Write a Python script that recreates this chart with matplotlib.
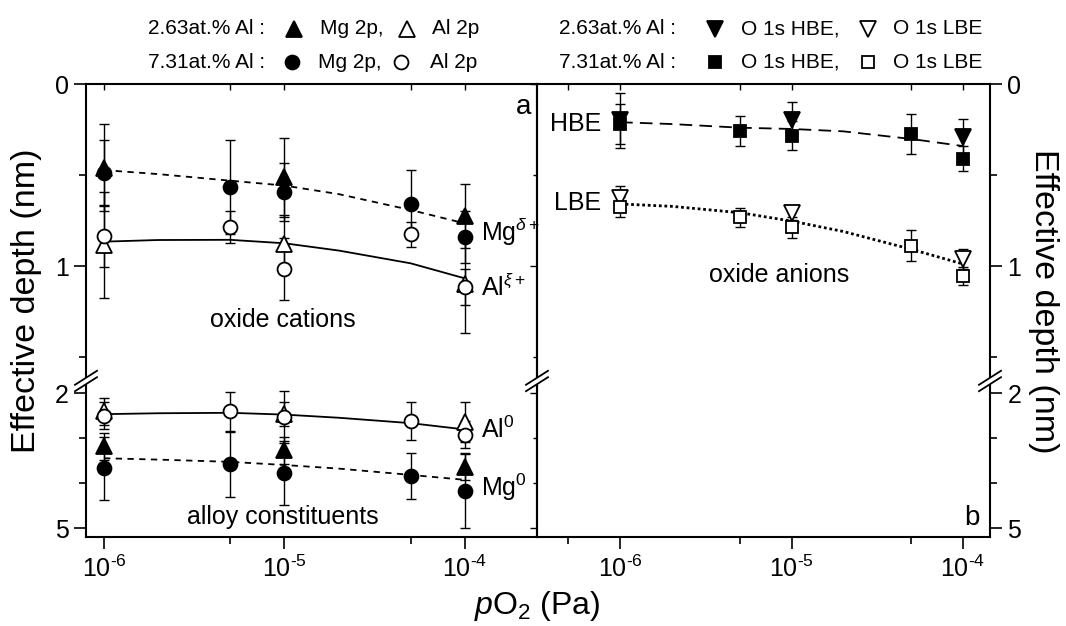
import math
import matplotlib
matplotlib.use('Agg')
import matplotlib.pyplot as plt
from matplotlib.lines import Line2D
from matplotlib.patches import Polygon
from matplotlib.ticker import FixedLocator, NullFormatter, FuncFormatter

plt.rcParams['font.family'] = ['Liberation Sans', 'DejaVu Sans']
plt.rcParams['mathtext.fontset'] = 'custom'
plt.rcParams['mathtext.rm'] = 'Liberation Sans'
plt.rcParams['mathtext.it'] = 'Liberation Sans:italic'
plt.rcParams['mathtext.bf'] = 'Liberation Sans:bold'

# ---------------- data ----------------
pO2 = [1e-6, 5e-6, 1e-5, 5e-5, 1e-4]      # 7.31 at.% Al
pO2_low = [1e-6, 1e-5, 1e-4]             # 2.63 at.% Al
fit_x = [1e-6, 2e-6, 5e-6, 1e-5, 2e-5, 5e-5, 1e-4]

# oxide cations (upper left)
mg_ox_263 = [0.46, 0.513, 0.725]
mg_ox_263_err = [0.24, 0.215, 0.175]
mg_ox_731 = [0.49, 0.565, 0.593, 0.66, 0.84]
mg_ox_731_err = [0.18, 0.26, 0.16, 0.19, 0.145]
al_ox_263 = [0.885, 0.881, 1.10]
al_ox_263_err = [0.29, 0.16, 0.27]
al_ox_731 = [0.835, 0.785, 1.015, 0.826, 1.115]
al_ox_731_err = [0.17, 0.09, 0.17, 0.07, 0.10]
mg_ox_fit = [0.473, 0.495, 0.531, 0.558, 0.605, 0.692, 0.766]
al_ox_fit = [0.866, 0.857, 0.856, 0.875, 0.915, 0.985, 1.068]

# alloy constituents (lower left)
mg_met_263 = [3.18, 3.27, 3.64]
mg_met_263_err = [0.30, 0.30, 0.30]
mg_met_731 = [3.67, 3.58, 3.78, 3.84, 4.18]
mg_met_731_err = [0.70, 0.72, 0.71, 0.51, 0.82]
al_met_263 = [2.40, 2.47, 2.64]
al_met_263_err = [0.30, 0.26, 0.44]
al_met_731 = [2.51, 2.41, 2.53, 2.62, 2.93]
al_met_731_err = [0.30, 0.44, 0.57, 0.43, 0.30]
al_met_fit = [2.47, 2.45, 2.44, 2.48, 2.55, 2.67, 2.81]
mg_met_fit = [3.45, 3.48, 3.53, 3.60, 3.68, 3.82, 3.93]

# oxide anions (upper right)
hbe_263 = [0.20, 0.20, 0.29]
hbe_263_err = [0.15, 0.10, 0.10]
hbe_731 = [0.22, 0.256, 0.285, 0.275, 0.41]
hbe_731_err = [0.11, 0.082, 0.08, 0.11, 0.07]
lbe_263 = [0.628, 0.707, 0.963]
lbe_263_err = [0.07, 0.04, 0.055]
lbe_731 = [0.674, 0.733, 0.788, 0.888, 1.055]
lbe_731_err = [0.055, 0.05, 0.06, 0.085, 0.05]
hbe_fit = [0.21, 0.22, 0.24, 0.247, 0.26, 0.302, 0.341]
lbe_fit = [0.659, 0.672, 0.707, 0.753, 0.81, 0.908, 0.989]

#------------------------------------------------------#

W, H = 1066, 626
fig = plt.figure(figsize=(W / 100, H / 100), dpi=100)


def fx(px):
    return px / W


def fy(py):
    return 1 - py / H


def make_axes(x0, x1, y0, y1):
    return fig.add_axes([fx(x0), fy(y1), (x1 - x0) / W, (y1 - y0) / H])


axTL = make_axes(86, 537, 84, 380)
axBL = make_axes(86, 537, 380, 537)
axTR = make_axes(537, 990, 84, 380)
axBR = make_axes(537, 990, 380, 537)


def series(ax, x, y, err, marker, filled, ms):
    ax.errorbar(x, y, yerr=err, fmt='none', ecolor='black', elinewidth=1,
                capsize=3.5, capthick=1, zorder=2)
    ax.plot(x, y, linestyle='none', marker=marker, ms=ms,
            mfc='black' if filled else 'white', mec='black', mew=1.3,
            zorder=4, clip_on=False)


# upper left
axTL.plot(fit_x, mg_ox_fit, color='black', lw=1.3, ls=(0, (3.5, 3)), zorder=3)
axTL.plot(fit_x, al_ox_fit, color='black', lw=1.3, ls='-', zorder=3)
series(axTL, pO2_low, al_ox_263, al_ox_263_err, '^', False, 11)
series(axTL, pO2, al_ox_731, al_ox_731_err, 'o', False, 10)
series(axTL, pO2_low, mg_ox_263, mg_ox_263_err, '^', True, 11)
series(axTL, pO2, mg_ox_731, mg_ox_731_err, 'o', True, 10)

# lower left
axBL.plot(fit_x, al_met_fit, color='black', lw=1.3, ls='-', zorder=3)
axBL.plot(fit_x, mg_met_fit, color='black', lw=1.3, ls=(0, (3.5, 3)), zorder=3)
series(axBL, pO2_low, al_met_263, al_met_263_err, '^', False, 11)
series(axBL, pO2, al_met_731, al_met_731_err, 'o', False, 10)
series(axBL, pO2_low, mg_met_263, mg_met_263_err, '^', True, 11)
series(axBL, pO2, mg_met_731, mg_met_731_err, 'o', True, 10)

# upper right
axTR.plot(fit_x, hbe_fit, color='black', lw=1.3, ls=(0, (7, 4)), zorder=3)
axTR.plot(fit_x, lbe_fit, color='black', lw=2, ls=(0, (1, 1)), zorder=3)
series(axTR, pO2_low, hbe_263, hbe_263_err, 'v', True, 11)
series(axTR, pO2, hbe_731, hbe_731_err, 's', True, 8)
series(axTR, pO2_low, lbe_263, lbe_263_err, 'v', False, 11)
series(axTR, pO2, lbe_731, lbe_731_err, 's', False, 8)

# ---------------- axes styling ----------------
def pow10(v, pos):
    e = int(round(math.log10(v)))
    sign = '\\text{-}' if e < 0 else ''
    return '$10^{%s%d}$' % (sign, abs(e))


for ax in (axTL, axBL):
    ax.set_xlim(7.95e-7, 2.506e-4)
for ax in (axTR, axBR):
    ax.set_xlim(3.28e-7, 1.436e-4)
for ax in (axTL, axTR):
    ax.set_ylim(1.626, 0)
    ax.yaxis.set_major_locator(FixedLocator([0, 1]))
    ax.yaxis.set_minor_locator(FixedLocator([0.5, 1.5]))
    ax.spines['bottom'].set_visible(False)
for ax in (axBL, axBR):
    ax.set_ylim(5.2, 1.711)
    ax.yaxis.set_major_locator(FixedLocator([2, 5]))
    ax.yaxis.set_minor_locator(FixedLocator([3, 4]))
    ax.spines['top'].set_visible(False)

for ax in (axTL, axBL, axTR, axBR):
    ax.set_xscale('log')
    ax.xaxis.set_major_locator(FixedLocator([1e-7, 1e-6, 1e-5, 1e-4]))
    ax.xaxis.set_minor_locator(FixedLocator([5e-7, 5e-6, 5e-5]))
    ax.xaxis.set_major_formatter(FuncFormatter(pow10))
    ax.xaxis.set_minor_formatter(NullFormatter())
    ax.set_facecolor('none')
    for s in ax.spines.values():
        s.set_linewidth(1.5)
    ax.tick_params(axis='y', which='major', length=8.5, width=1.2, labelsize=18, pad=4)
    ax.tick_params(axis='y', which='minor', length=5, width=1.2)

for ax in (axTL, axTR):
    ax.tick_params(axis='x', which='both', bottom=False, top=True, direction='in',
                   labelbottom=False, length=4, width=1.0)
for ax in (axBL, axBR):
    ax.tick_params(axis='x', which='major', length=8.5, width=1.2, labelsize=18, pad=5)
    ax.tick_params(axis='x', which='minor', length=5, width=1.2)

for ax in (axTR, axBR):
    ax.yaxis.tick_right()

# small inward ticks on the shared middle spine
for ax in (axTL, axBL):
    sec = ax.secondary_yaxis('right')
    sec.yaxis.set_major_locator(ax.yaxis.get_major_locator())
    sec.yaxis.set_minor_locator(ax.yaxis.get_minor_locator())
    sec.tick_params(which='both', direction='in', labelright=False, width=1.0)
    sec.tick_params(which='major', length=5)
    sec.tick_params(which='minor', length=3)
    sec.spines['right'].set_visible(False)

# break marks on the y axis
def break_mark(xp, yp, dx=11, dy=7, gap=3.2):
    pts = [[fx(xp - dx), fy(yp + dy - gap)], [fx(xp + dx), fy(yp - dy - gap)],
           [fx(xp + dx), fy(yp - dy + gap)], [fx(xp - dx), fy(yp + dy + gap)]]
    fig.add_artist(Polygon(pts, closed=True, facecolor='white', edgecolor='none', zorder=10))
    for s in (-gap, gap):
        fig.add_artist(Line2D([fx(xp - dx), fx(xp + dx)], [fy(yp + dy + s), fy(yp - dy + s)],
                              color='black', lw=1.3, zorder=11))


for xp in (86, 537, 990):
    break_mark(xp, 381)

# ---------------- texts ----------------
fig.text(fx(27), fy(301), 'Effective depth (nm)', rotation=90, ha='center', va='center', fontsize=24.5)
fig.text(fx(1043), fy(301), 'Effective depth (nm)', rotation=270, ha='center', va='center', fontsize=24.5)
fig.text(fx(537), fy(606), '$p$O$_2$ (Pa)', ha='center', va='center', fontsize=23)

fig.text(fx(524), fy(107), 'a', ha='center', va='center', fontsize=20)
fig.text(fx(972), fy(518), 'b', ha='center', va='center', fontsize=20)
fig.text(fx(481), fy(232), 'Mg$^{\\delta+}$', ha='left', va='center', fontsize=18)
fig.text(fx(481), fy(287), 'Al$^{\\xi+}$', ha='left', va='center', fontsize=18)
fig.text(fx(283), fy(320), 'oxide cations', ha='center', va='center', fontsize=18)
fig.text(fx(481), fy(430), 'Al$^0$', ha='left', va='center', fontsize=18)
fig.text(fx(481), fy(487), 'Mg$^0$', ha='left', va='center', fontsize=18)
fig.text(fx(283), fy(517), 'alloy constituents', ha='center', va='center', fontsize=18)
fig.text(fx(601), fy(124), 'HBE', ha='right', va='center', fontsize=18)
fig.text(fx(601), fy(203), 'LBE', ha='right', va='center', fontsize=18)
fig.text(fx(779), fy(275), 'oxide anions', ha='center', va='center', fontsize=18)

# ---------------- legend (two header rows) ----------------
def key(xp, yp, marker, filled, ms):
    fig.add_artist(Line2D([fx(xp)], [fy(yp)], linestyle='none', marker=marker, ms=ms,
                          mfc='black' if filled else 'white', mec='black', mew=1.3))


rows = [29, 62]
fs = 15
fig.text(fx(148), fy(rows[0]), '2.63at.% Al :', ha='left', va='center', fontsize=fs)
key(294, rows[0], '^', True, 11)
fig.text(fx(320), fy(rows[0]), 'Mg 2p,', ha='left', va='center', fontsize=fs)
key(407, rows[0], '^', False, 11)
fig.text(fx(432), fy(rows[0]), 'Al 2p', ha='left', va='center', fontsize=fs)

fig.text(fx(148), fy(rows[1]), '7.31at.% Al :', ha='left', va='center', fontsize=fs)
key(292, rows[1], 'o', True, 10)
fig.text(fx(318), fy(rows[1]), 'Mg 2p,', ha='left', va='center', fontsize=fs)
key(401, rows[1], 'o', False, 10)
fig.text(fx(430), fy(rows[1]), 'Al 2p', ha='left', va='center', fontsize=fs)

fig.text(fx(559), fy(rows[0]), '2.63at.% Al :', ha='left', va='center', fontsize=fs)
key(715, rows[0], 'v', True, 11)
fig.text(fx(741), fy(rows[0]), 'O 1s HBE,', ha='left', va='center', fontsize=fs)
key(868, rows[0], 'v', False, 11)
fig.text(fx(893), fy(rows[0]), 'O 1s LBE', ha='left', va='center', fontsize=fs)

fig.text(fx(559), fy(rows[1]), '7.31at.% Al :', ha='left', va='center', fontsize=fs)
key(715, rows[1], 's', True, 8)
fig.text(fx(741), fy(rows[1]), 'O 1s HBE,', ha='left', va='center', fontsize=fs)
key(868, rows[1], 's', False, 8)
fig.text(fx(893), fy(rows[1]), 'O 1s LBE', ha='left', va='center', fontsize=fs)

fig.savefig('out.png', dpi=100)
